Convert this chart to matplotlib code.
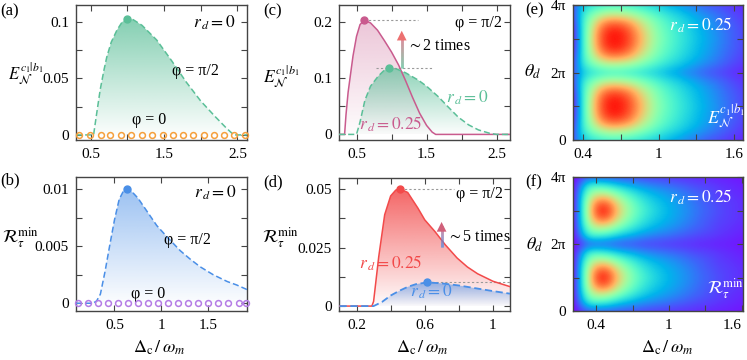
import numpy as np
import matplotlib
matplotlib.use('Agg')
import matplotlib.pyplot as plt
import matplotlib.colors as mcolors
from matplotlib.patches import Polygon, FancyArrowPatch
from matplotlib.collections import LineCollection

plt.rcParams['font.family'] = ['Liberation Serif', 'DejaVu Serif']
plt.rcParams['mathtext.fontset'] = 'stix'

# --- data ---
# (a) E_N, r_d = 0, phi = pi/2 (dashed) and phi = 0 (circles)
a_x = [0.30, 0.45, 0.54, 0.58, 0.63, 0.68, 0.72, 0.78, 0.86, 0.93, 1.00, 1.08, 1.20,
       1.40, 1.60, 1.80, 2.00, 2.20, 2.35, 2.45, 2.63]
a_y = [0, 0, 0, 0.018, 0.040, 0.057, 0.069, 0.082, 0.093, 0.100, 0.103, 0.102, 0.097,
       0.084, 0.066, 0.047, 0.030, 0.016, 0.006, 0.0, 0.0]
a_zero_x = [0.34, 0.49, 0.64, 0.77, 0.91, 1.05, 1.20, 1.33, 1.48, 1.62, 1.76, 1.90,
            2.04, 2.18, 2.32, 2.46, 2.60]

# (b) R_tau^min, r_d = 0
b_x = [0.09, 0.20, 0.27, 0.31, 0.35, 0.40, 0.45, 0.50, 0.55, 0.60, 0.63, 0.67, 0.75,
       0.85, 0.95, 1.06, 1.20, 1.30, 1.41, 1.55, 1.70, 1.80, 1.91]
b_y = [0, 0, 0, 0.0002, 0.0008, 0.0028, 0.0051, 0.0073, 0.0091, 0.0099, 0.0100, 0.0099,
       0.0092, 0.0080, 0.0068, 0.0058, 0.0046, 0.0039, 0.0032, 0.0025, 0.0019, 0.0016, 0.0012]
b_zero_x = [0.11, 0.22, 0.32, 0.43, 0.54, 0.64, 0.75, 0.86, 0.96, 1.07, 1.18, 1.28,
            1.39, 1.50, 1.60, 1.71, 1.82, 1.90]

# (c) E_N, phi = pi/2, r_d = 0.25 (solid) and r_d = 0 (dashed)
c1_x = [0.25, 0.33, 0.35, 0.38, 0.41, 0.45, 0.50, 0.55, 0.61, 0.70, 0.80, 0.90, 1.00,
        1.10, 1.20, 1.30, 1.40, 1.50, 1.58, 1.63, 2.69]
c1_y = [0, 0, 0.035, 0.075, 0.103, 0.140, 0.175, 0.196, 0.204, 0.199, 0.186, 0.167, 0.147,
        0.124, 0.096, 0.066, 0.038, 0.016, 0.004, 0, 0]
c0_x = [0.25, 0.50, 0.55, 0.62, 0.70, 0.81, 0.90, 0.96, 1.05, 1.20, 1.38, 1.50, 1.67,
        1.80, 1.95, 2.10, 2.24, 2.40, 2.50, 2.69]
c0_y = [0, 0, 0.022, 0.061, 0.086, 0.104, 0.115, 0.119, 0.118, 0.110, 0.097, 0.086, 0.067,
        0.050, 0.031, 0.017, 0.008, 0.002, 0, 0]

# (d) R_tau^min, phi = pi/2, r_d = 0.25 (solid) and r_d = 0 (dashed)
d1_x = [0.10, 0.29, 0.30, 0.33, 0.365, 0.40, 0.43, 0.453, 0.50, 0.56, 0.60, 0.66, 0.72,
        0.79, 0.85, 0.91, 1.00, 1.10]
d1_y = [0, 0, 0.002, 0.021, 0.039, 0.047, 0.0495, 0.050, 0.0485, 0.0418, 0.0368, 0.0318,
        0.0262, 0.0205, 0.0167, 0.0138, 0.0106, 0.0083]
d0_x = [0.10, 0.30, 0.35, 0.40, 0.45, 0.50, 0.55, 0.615, 0.70, 0.80, 0.90, 1.00, 1.10]
d0_y = [0, 0, 0.0018, 0.0045, 0.0065, 0.0082, 0.0094, 0.0101, 0.0097, 0.0088, 0.0076,
        0.0064, 0.0053]

# (e) normalised E_N map; rows by distance of theta_d from pi (in units of pi)
e_cols = [0.32, 0.395, 0.47, 0.545, 0.62, 0.695, 0.77, 0.845, 0.92, 0.995, 1.07, 1.145,
          1.22, 1.295, 1.37, 1.445, 1.52, 1.595, 1.67]
e_d000 = [0.0, 0.35, 0.68, 0.90, 0.98, 0.97, 0.90, 0.78, 0.64, 0.52, 0.44, 0.38, 0.33, 0.28, 0.24, 0.20, 0.16, 0.12, 0.09]
e_d025 = [0.0, 0.35, 0.66, 0.88, 0.96, 0.95, 0.88, 0.75, 0.62, 0.50, 0.43, 0.37, 0.32, 0.27, 0.23, 0.19, 0.15, 0.12, 0.09]
e_d050 = [0.03, 0.36, 0.60, 0.78, 0.85, 0.84, 0.78, 0.67, 0.56, 0.47, 0.40, 0.35, 0.30, 0.26, 0.22, 0.18, 0.14, 0.11, 0.08]
e_d075 = [0.06, 0.35, 0.48, 0.57, 0.61, 0.60, 0.57, 0.51, 0.45, 0.39, 0.34, 0.30, 0.26, 0.22, 0.18, 0.15, 0.12, 0.09, 0.07]
e_d100 = [0.08, 0.28, 0.34, 0.37, 0.39, 0.39, 0.37, 0.35, 0.32, 0.29, 0.25, 0.22, 0.18, 0.15, 0.12, 0.10, 0.08, 0.06, 0.05]

# (f) normalised R_tau^min map
f_cols = [0.21, 0.28, 0.35, 0.42, 0.49, 0.56, 0.63, 0.70, 0.77, 0.84, 0.91, 0.98, 1.05,
          1.12, 1.19, 1.26, 1.33, 1.40, 1.47, 1.54, 1.61]
f_d000 = [0.0, 0.30, 0.72, 0.95, 0.95, 0.78, 0.62, 0.50, 0.41, 0.35, 0.30, 0.26, 0.23, 0.20, 0.17, 0.14, 0.12, 0.10, 0.08, 0.07, 0.06]
f_d025 = [0.0, 0.30, 0.68, 0.86, 0.86, 0.71, 0.57, 0.46, 0.38, 0.32, 0.28, 0.25, 0.22, 0.19, 0.16, 0.13, 0.11, 0.09, 0.08, 0.07, 0.06]
f_d050 = [0.0, 0.27, 0.55, 0.64, 0.62, 0.53, 0.44, 0.37, 0.31, 0.27, 0.24, 0.21, 0.19, 0.16, 0.14, 0.12, 0.10, 0.08, 0.07, 0.06, 0.05]
f_d075 = [0.0, 0.20, 0.38, 0.38, 0.35, 0.30, 0.26, 0.23, 0.20, 0.18, 0.16, 0.15, 0.13, 0.12, 0.10, 0.09, 0.08, 0.07, 0.06, 0.05, 0.04]
f_d100 = [0.0, 0.07, 0.11, 0.12, 0.12, 0.11, 0.10, 0.10, 0.09, 0.08, 0.08, 0.07, 0.07, 0.06, 0.06, 0.05, 0.05, 0.04, 0.04, 0.03, 0.03]

GREEN = '#5bbf98'
BLUE = '#4a8fe7'
PINK = '#c95b8e'
RED = '#f24a4a'
ORANGE = '#f5a03c'
PURPLE = '#b57ce6'
SPINE = '#444444'


def grad_fill(ax, x, y, color, a_top, a_bot=0.02):
    x = np.asarray(x, float)
    y = np.asarray(y, float)
    verts = np.vstack([np.column_stack([x, y]), [[x[-1], 0], [x[0], 0]]])
    patch = Polygon(verts, closed=True, facecolor='none', edgecolor='none')
    ax.add_patch(patch)
    g = np.zeros((200, 2, 4))
    g[..., :3] = mcolors.to_rgb(color)
    g[..., 3] = np.linspace(a_bot, a_top, 200)[:, None]
    im = ax.imshow(g, extent=[x[0], x[-1], 0, y.max()], origin='lower',
                   aspect='auto', interpolation='bilinear', zorder=1)
    im.set_clip_path(patch)


def grad_arrow(ax, x, y0, y1, c0, c1, head):
    n = 40
    ys = np.linspace(y0, y1 - 0.05, n + 1)
    segs = [[(x, ys[i]), (x, ys[i + 1])] for i in range(n)]
    r0, r1 = np.array(mcolors.to_rgb(c0)), np.array(mcolors.to_rgb(c1))
    cols = [r0 + (r1 - r0) * i / (n - 1) for i in range(n)]
    ax.add_collection(LineCollection(segs, colors=cols, linewidths=2.0,
                                     transform=ax.transAxes, zorder=5))
    ax.add_patch(FancyArrowPatch((x, y1 - 0.07), (x, y1), transform=ax.transAxes,
                                 arrowstyle='-|>,head_width=3.5,head_length=7',
                                 mutation_scale=1, color=head, lw=0, zorder=6))


def style(ax):
    ax.tick_params(which='both', direction='in', top=True, right=True, length=4,
                   width=0.8, color=SPINE, labelsize=11, pad=5)
    ax.tick_params(axis='x', pad=6)
    for s in ax.spines.values():
        s.set_color(SPINE)
        s.set_linewidth(1.0)


fig = plt.figure(figsize=(7.47, 3.6), dpi=100)
ax_a = fig.add_axes([0.1017, 0.6111, 0.2289, 0.375])
ax_b = fig.add_axes([0.1017, 0.1361, 0.2289, 0.3722])
ax_c = fig.add_axes([0.4538, 0.6111, 0.2289, 0.375])
ax_d = fig.add_axes([0.4538, 0.1361, 0.2289, 0.3697])
ax_e = fig.add_axes([0.7671, 0.6111, 0.2276, 0.375])
ax_f = fig.add_axes([0.7671, 0.1361, 0.2276, 0.3722])

txt = dict(fontsize=11.5)

# --- (a) ---
grad_fill(ax_a, a_x, a_y, GREEN, 0.75)
ax_a.plot(a_x, a_y, color=GREEN, lw=1.1, ls=(0, (4, 2)), zorder=3)
ia = int(np.argmax(a_y))
ax_a.plot(a_x[ia], a_y[ia], 'o', color=GREEN, ms=5, zorder=4)
ax_a.plot(a_zero_x, np.zeros(len(a_zero_x)), 'o', mfc='none', mec=ORANGE, mew=1.1,
          ms=4.2, zorder=4, clip_on=False)
ax_a.set_xlim(0.30, 2.63)
ax_a.set_ylim(-0.0045, 0.115)
ax_a.set_xticks([0.5, 1.5, 2.5])
ax_a.set_xticks([1.0, 2.0], minor=True)
ax_a.set_yticks([0, 0.05, 0.1])
ax_a.set_yticklabels(['0', '0.05', '0.1'])
ax_a.set_yticks([0.025, 0.075], minor=True)
ax_a.text(0.93, 0.87, r'$r_{\,d}=0$', transform=ax_a.transAxes, ha='right', va='center', fontsize=12.5)
ax_a.text(0.70, 0.51, 'φ = π/2', transform=ax_a.transAxes, ha='center', va='center', **txt)
ax_a.text(0.43, 0.15, 'φ = 0', transform=ax_a.transAxes, ha='center', va='center', **txt)
style(ax_a)

# --- (b) ---
grad_fill(ax_b, b_x, b_y, BLUE, 0.55)
ax_b.plot(b_x, b_y, color=BLUE, lw=1.1, ls=(0, (4, 2)), zorder=3)
ib = int(np.argmax(b_y))
ax_b.plot(b_x[ib], b_y[ib], 'o', color=BLUE, ms=5, zorder=4)
ax_b.plot(b_zero_x, np.zeros(len(b_zero_x)), 'o', mfc='none', mec=PURPLE, mew=1.1,
          ms=4.2, zorder=4, clip_on=False)
ax_b.set_xlim(0.09, 1.91)
ax_b.set_ylim(-0.00068, 0.01105)
ax_b.set_xticks([0.5, 1.0, 1.5])
ax_b.set_xticklabels(['0.5', '1', '1.5'])
ax_b.set_yticks([0, 0.005, 0.01])
ax_b.set_yticklabels(['0', '0.005', '0.01'])
ax_b.set_yticks([0.0025, 0.0075], minor=True)
ax_b.text(0.94, 0.88, r'$r_{\,d}=0$', transform=ax_b.transAxes, ha='right', va='center', fontsize=12.5)
ax_b.text(0.65, 0.53, 'φ = π/2', transform=ax_b.transAxes, ha='center', va='center', **txt)
ax_b.text(0.42, 0.13, 'φ = 0', transform=ax_b.transAxes, ha='center', va='center', **txt)
style(ax_b)

# --- (c) ---
grad_fill(ax_c, c1_x, c1_y, PINK, 0.35)
grad_fill(ax_c, c0_x, c0_y, GREEN, 0.7)
ax_c.plot(c1_x, c1_y, color=PINK, lw=1.1, zorder=3)
ax_c.plot(c0_x, c0_y, color=GREEN, lw=1.1, ls=(0, (4, 2)), zorder=3)
i1 = int(np.argmax(c1_y))
i0 = int(np.argmax(c0_y))
ax_c.plot(c1_x[i1], c1_y[i1], 'o', color=PINK, ms=5, zorder=4)
ax_c.plot(c0_x[i0], c0_y[i0], 'o', color=GREEN, ms=5, zorder=4)
ax_c.plot([c1_x[i1], 1.38], [c1_y[i1]] * 2, color='#9a9a9a', lw=0.8, ls=(0, (2, 2)), zorder=2)
ax_c.plot([0.78, 1.59], [c0_y[i0]] * 2, color='#9a9a9a', lw=0.8, ls=(0, (2, 2)), zorder=2)
ax_c.set_xlim(0.25, 2.69)
ax_c.set_ylim(-0.010, 0.231)
ax_c.set_xticks([0.5, 1.5, 2.5])
ax_c.set_xticks([1.0, 2.0], minor=True)
ax_c.set_yticks([0, 0.1, 0.2])
ax_c.set_yticklabels(['0', '0.1', '0.2'])
ax_c.set_yticks([0.05, 0.15], minor=True)
grad_arrow(ax_c, 0.367, 0.53, 0.83, GREEN, '#e0607a', '#ec7070')
ax_c.text(0.40, 0.70, r'$\sim$2 times', transform=ax_c.transAxes, ha='left', va='center', **txt)
ax_c.text(0.95, 0.87, 'φ = π/2', transform=ax_c.transAxes, ha='right', va='center', **txt)
ax_c.text(0.75, 0.31, r'$r_{\,d}=0$', transform=ax_c.transAxes, ha='center', va='center',
          color=GREEN, fontsize=12.5)
ax_c.text(0.30, 0.116, r'$r_{\,d}=0.25$', transform=ax_c.transAxes, ha='center', va='center',
          color=PINK, fontsize=12.5)
style(ax_c)

# --- (d) ---
grad_fill(ax_d, d1_x, d1_y, RED, 0.85)
grad_fill(ax_d, d0_x, d0_y, BLUE, 0.6)
ax_d.plot(d1_x, d1_y, color=RED, lw=1.1, zorder=3)
ax_d.plot(d0_x, d0_y, color=BLUE, lw=1.3, ls=(0, (4, 2)), zorder=3)
j1 = int(np.argmax(d1_y))
j0 = int(np.argmax(d0_y))
ax_d.plot(d1_x[j1], d1_y[j1], 'o', color=RED, ms=5, zorder=4)
ax_d.plot(d0_x[j0], d0_y[j0], 'o', color=BLUE, ms=5, zorder=4)
ax_d.plot([d1_x[j1], 0.77], [d1_y[j1]] * 2, color='#9a9a9a', lw=0.8, ls=(0, (2, 2)), zorder=2)
ax_d.plot([d0_x[j0], 1.1], [d0_y[j0]] * 2, color='#9a9a9a', lw=0.8, ls=(0, (2, 2)), zorder=2)
ax_d.set_xlim(0.097, 1.10)
ax_d.set_ylim(-0.0021, 0.0547)
ax_d.set_xticks([0.2, 0.6, 1.0])
ax_d.set_xticklabels(['0.2', '0.6', '1'])
ax_d.set_xticks([0.4, 0.8], minor=True)
ax_d.set_yticks([0, 0.025, 0.05])
ax_d.set_yticklabels(['0', '0.025', '0.05'])
ax_d.set_yticks([0.0125, 0.0375], minor=True)
grad_arrow(ax_d, 0.60, 0.48, 0.69, BLUE, '#d0607a', '#d0607a')
ax_d.text(0.63, 0.555, r'$\sim$5 times', transform=ax_d.transAxes, ha='left', va='center', **txt)
ax_d.text(0.96, 0.88, 'φ = π/2', transform=ax_d.transAxes, ha='right', va='center', **txt)
ax_d.text(0.30, 0.356, r'$r_{\,d}=0.25$', transform=ax_d.transAxes, ha='center', va='center',
          color=RED, fontsize=12.5)
ax_d.text(0.54, 0.144, r'$r_{\,d}=0$', transform=ax_d.transAxes, ha='center', va='center',
          color=BLUE, fontsize=12.5)
style(ax_d)

# --- (e), (f) maps ---
e_rows = [e_d100, e_d075, e_d050, e_d025, e_d000, e_d025, e_d050, e_d075]
f_rows = [f_d100, f_d075, f_d050, f_d025, f_d000, f_d025, f_d050, f_d075]
Ze = np.array(e_rows + e_rows + [e_d100])
Zf = np.array(f_rows + f_rows + [f_d100])
dth = 0.25 * np.pi

for ax, cols, Z, xl, lab in [(ax_e, e_cols, Ze, (0.32, 1.67), r'$E_{\mathcal{N}}^{c_1|b_1}$'),
                             (ax_f, f_cols, Zf, (0.21, 1.61), r'$\mathcal{R}_{\tau}^{\min}$')]:
    dx = cols[1] - cols[0]
    ax.imshow(Z, origin='lower', aspect='auto', cmap='rainbow', vmin=0, vmax=1,
              interpolation='bicubic', interpolation_stage='data',
              extent=[cols[0] - dx / 2, cols[-1] + dx / 2, -dth / 2, 4 * np.pi + dth / 2])
    ax.set_xlim(*xl)
    ax.set_ylim(0, 4 * np.pi)
    ax.set_xticks([0.4, 1.0, 1.6])
    ax.set_xticklabels(['0.4', '1', '1.6'])
    ax.set_xticks([0.7, 1.3], minor=True)
    ax.set_yticks([0, 2 * np.pi, 4 * np.pi])
    ax.set_yticklabels(['0', '2π', '4π'])
    ax.set_yticks([np.pi, 3 * np.pi], minor=True)
    style(ax)
    ax.text(0.75, 0.85, r'$r_{\,d}=0.25$', transform=ax.transAxes, ha='center', va='center',
            color='white', fontsize=12.5)
    ax.text(0.90, 0.17, lab, transform=ax.transAxes, ha='center', va='center',
            color='white', fontsize=13)

ax_f.get_xticklabels()[-1].set_ha('right')

# --- axis labels and panel tags ---
fig.text(0.034, 0.794, r'$E_{\mathcal{N}}^{c_1|b_1}$', ha='center', va='center', fontsize=12)
fig.text(0.027, 0.339, r'$\mathcal{R}_{\tau}^{\min}$', ha='center', va='center', fontsize=13)
fig.text(0.376, 0.786, r'$E_{\mathcal{N}}^{c_1|b_1}$', ha='center', va='center', fontsize=12.5)
fig.text(0.375, 0.339, r'$\mathcal{R}_{\tau}^{\min}$', ha='center', va='center', fontsize=13)
fig.text(0.7135, 0.80, r'$\theta_d$', ha='center', va='center', fontsize=13)
fig.text(0.716, 0.319, r'$\theta_d$', ha='center', va='center', fontsize=13)

for xc in [0.213, 0.565, 0.893]:
    fig.text(xc, 0.033, r'$\Delta_{\rm c}\,/\,\omega_m$', ha='center', va='center', fontsize=13)

for tag, x, y in [('(a)', 0.0, 0.967), ('(b)', 0.0, 0.50), ('(c)', 0.352, 0.967),
                  ('(d)', 0.352, 0.494), ('(e)', 0.703, 0.972), ('(f)', 0.703, 0.494)]:
    fig.text(x, y, tag, ha='left', va='center', fontsize=12)

fig.savefig('out.png', dpi=100)
